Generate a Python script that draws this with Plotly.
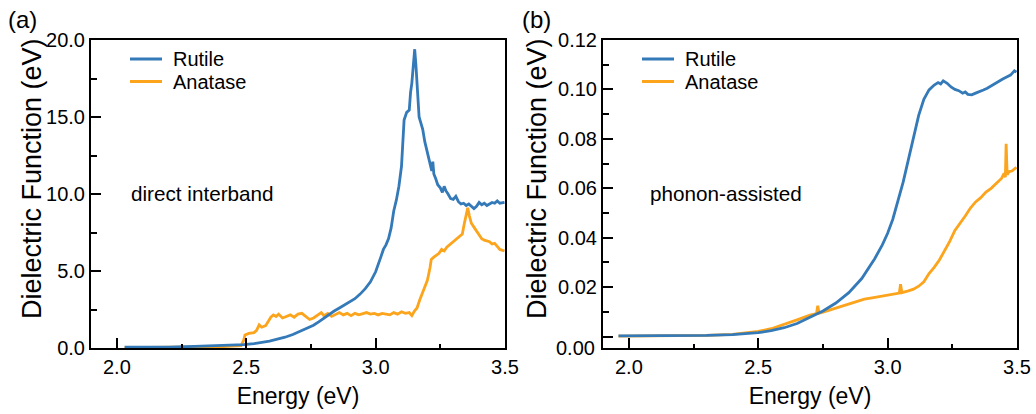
import plotly.graph_objects as go

# ---------------- data ----------------
rutile_a_E = [2.03, 2.10, 2.20, 2.30, 2.40, 2.45, 2.49, 2.53, 2.56, 2.59, 2.62, 2.65, 2.68, 2.70, 2.72,
              2.74, 2.76, 2.78, 2.80, 2.82, 2.84, 2.86, 2.88, 2.90, 2.92, 2.94, 2.96, 2.98, 3.00, 3.02,
              3.03, 3.04, 3.05, 3.06, 3.07, 3.08, 3.09, 3.10, 3.11, 3.12, 3.13, 3.135, 3.14, 3.145, 3.151,
              3.156, 3.162, 3.168, 3.175, 3.182, 3.19, 3.197, 3.205, 3.212, 3.217, 3.221, 3.225, 3.232,
              3.24, 3.25, 3.258, 3.265, 3.272, 3.28, 3.29, 3.30, 3.31, 3.32, 3.33, 3.34, 3.35, 3.36, 3.37,
              3.38, 3.39, 3.40, 3.41, 3.42, 3.43, 3.44, 3.45, 3.46, 3.47, 3.48, 3.498]
rutile_a_V = [0.05, 0.05, 0.06, 0.10, 0.15, 0.18, 0.22, 0.28, 0.35, 0.45, 0.58, 0.70, 0.88, 1.02, 1.15,
              1.30, 1.48, 1.70, 1.95, 2.15, 2.40, 2.60, 2.80, 3.00, 3.20, 3.50, 3.85, 4.30, 4.95, 5.90,
              6.40, 6.70, 7.10, 7.80, 8.90, 9.60, 10.50, 11.80, 14.80, 15.30, 15.45, 16.6, 17.2, 18.2, 19.4,
              18.3, 16.8, 15.0, 14.6, 14.2, 13.4, 12.9, 12.5, 12.0, 11.5, 12.1, 11.3, 11.0,
              10.6, 10.4, 10.1, 10.5, 10.2, 10.0, 9.7, 9.65, 9.85, 9.5, 9.35, 9.4, 9.25, 9.35, 9.2,
              9.05, 9.2, 9.45, 9.3, 9.4, 9.25, 9.35, 9.45, 9.4, 9.55, 9.4, 9.45]

anatase_a_E = [2.03, 2.20, 2.40, 2.48, 2.49, 2.495, 2.51, 2.53, 2.54, 2.55, 2.56, 2.575, 2.585, 2.595,
               2.605, 2.615, 2.625, 2.64, 2.655, 2.67, 2.685, 2.70, 2.715, 2.73, 2.745, 2.76, 2.775,
               2.79, 2.80, 2.815, 2.83, 2.845, 2.86, 2.875, 2.89, 2.905, 2.92, 2.935, 2.95, 2.965, 2.98,
               2.995, 3.01, 3.025, 3.04, 3.055, 3.07, 3.085, 3.10, 3.115, 3.13, 3.14, 3.15, 3.16, 3.17,
               3.18, 3.19, 3.20, 3.21, 3.215, 3.225, 3.235, 3.245, 3.255, 3.265, 3.275, 3.285, 3.295,
               3.305, 3.315, 3.325, 3.335, 3.343, 3.35, 3.356, 3.362, 3.37, 3.38, 3.39, 3.40, 3.41, 3.42,
               3.43, 3.44, 3.45, 3.46, 3.47, 3.48, 3.498]
anatase_a_V = [0.03, 0.04, 0.08, 0.15, 0.5, 0.85, 0.95, 1.0, 1.15, 1.5, 1.35, 1.45, 1.7, 2.0,
               2.15, 2.05, 2.2, 1.95, 2.05, 2.15, 2.0, 2.2, 2.25, 2.05, 1.85, 1.95, 2.15,
               2.3, 2.1, 2.25, 2.05, 2.2, 2.3, 2.15, 2.25, 2.1, 2.25, 2.15, 2.25, 2.3, 2.2,
               2.25, 2.15, 2.25, 2.2, 2.15, 2.3, 2.2, 2.35, 2.25, 2.3, 2.1, 2.4, 2.6, 3.1,
               3.5, 3.9, 4.4, 5.2, 5.75, 5.9, 6.0, 6.15, 6.4, 6.3, 6.55, 6.7, 6.8,
               7.0, 7.1, 7.3, 7.4, 8.1, 8.7, 9.1, 8.6, 8.1, 7.85, 7.6, 7.3, 7.1, 7.0,
               6.95, 6.9, 6.75, 6.8, 6.6, 6.4, 6.3]

rutile_b_E = [1.96, 2.10, 2.20, 2.30, 2.40, 2.45, 2.50, 2.55, 2.60, 2.65, 2.70, 2.75, 2.80, 2.85, 2.90,
              2.95, 2.98, 3.00, 3.02, 3.04, 3.06, 3.08, 3.10, 3.12, 3.14, 3.16, 3.18, 3.195, 3.205,
              3.215, 3.23, 3.245, 3.26, 3.275, 3.29, 3.30, 3.31, 3.325, 3.34, 3.355, 3.37, 3.385, 3.40,
              3.415, 3.43, 3.445, 3.46, 3.475, 3.49, 3.498]
rutile_b_V = [0.0003, 0.0003, 0.0004, 0.0005, 0.0008, 0.0011, 0.0016, 0.0024, 0.0036, 0.0053, 0.0077,
              0.0104, 0.0136, 0.0178, 0.0235, 0.0315, 0.0372, 0.0418, 0.0475, 0.0545, 0.0625, 0.0715,
              0.0810, 0.0895, 0.0960, 0.0998, 0.1018, 0.1028, 0.1022, 0.1035, 0.1025, 0.1010, 0.1000,
              0.0995, 0.0985, 0.0990, 0.0980, 0.0978, 0.0985, 0.0990, 0.0998, 0.1005, 0.1015, 0.1022,
              0.1035, 0.1042, 0.1050, 0.1058, 0.1075, 0.1070]

anatase_b_E = [1.96, 2.10, 2.20, 2.30, 2.40, 2.45, 2.50, 2.55, 2.60, 2.65, 2.70, 2.725, 2.73, 2.735,
               2.76, 2.79, 2.82, 2.85, 2.88, 2.91, 2.94, 2.97, 3.00, 3.03, 3.045, 3.05, 3.055, 3.08,
               3.10, 3.12, 3.14, 3.16, 3.18, 3.20, 3.22, 3.24, 3.26, 3.28, 3.30, 3.32, 3.34, 3.36,
               3.38, 3.40, 3.42, 3.44, 3.45, 3.455, 3.458, 3.462, 3.47, 3.48, 3.498]
anatase_b_V = [0.0002, 0.0002, 0.0003, 0.0005, 0.0009, 0.0014, 0.0021, 0.0032, 0.0049, 0.0068, 0.0087,
               0.0093, 0.0125, 0.0095, 0.0102, 0.0112, 0.0122, 0.0135, 0.0145, 0.0152, 0.0157, 0.0163,
               0.0168, 0.0172, 0.0176, 0.0212, 0.0178, 0.0185, 0.0192, 0.0204, 0.0222, 0.0255, 0.0280,
               0.0310, 0.0345, 0.0385, 0.0430, 0.0458, 0.0488, 0.0520, 0.0545, 0.0562, 0.0585, 0.0600,
               0.0622, 0.0640, 0.0660, 0.0645, 0.0780, 0.0655, 0.0668, 0.0670, 0.0685]

x_ticks = [2.0, 2.5, 3.0, 3.5]
ya_ticks = [0, 5, 10, 15, 20]
yb_ticks = [0.00, 0.02, 0.04, 0.06, 0.08, 0.10, 0.12]
series_names = ["Rutile", "Anatase"]

# ---------------- style ----------------
BLUE = "#3479b8"
ORANGE = "#fba41c"
FONT = "Liberation Sans, Arial, sans-serif"
W, H = 1036, 414
LW = 2.8

fig = go.Figure()

fig.add_trace(go.Scatter(x=anatase_a_E, y=anatase_a_V, mode="lines", name="Anatase",
                         line=dict(color=ORANGE, width=LW), xaxis="x", yaxis="y", showlegend=False))
fig.add_trace(go.Scatter(x=rutile_a_E, y=rutile_a_V, mode="lines", name="Rutile",
                         line=dict(color=BLUE, width=LW), xaxis="x", yaxis="y", showlegend=False))
fig.add_trace(go.Scatter(x=anatase_b_E, y=anatase_b_V, mode="lines", name="Anatase",
                         line=dict(color=ORANGE, width=LW), xaxis="x2", yaxis="y2", showlegend=False))
fig.add_trace(go.Scatter(x=rutile_b_E, y=rutile_b_V, mode="lines", name="Rutile",
                         line=dict(color=BLUE, width=LW), xaxis="x2", yaxis="y2", showlegend=False))

ax_common = dict(showline=True, linecolor="black", linewidth=2, mirror=True,
                 ticks="inside", tickcolor="black", tickwidth=2, ticklen=10,
                 showgrid=False, zeroline=False, automargin=False,
                 tickfont=dict(family=FONT, size=20, color="black"))

xa = dict(ax_common, range=[1.9, 3.5], tickvals=x_ticks, tickformat=".1f",
          minor=dict(ticks="inside", dtick=0.25, tick0=2.0, ticklen=4, tickwidth=2,
                     tickcolor="black", showgrid=False),
          title=dict(text="Energy (eV)", font=dict(family=FONT, size=23, color="black"), standoff=11))

ybot = (H - 348) / H
ytop = (H - 40) / H

# legend (drawn as decoration: short line samples + labels)
legend_shapes = []
legend_annots = []
for x0, in [(130,), (642,)]:
    for i, (nm, col) in enumerate(zip(series_names, [BLUE, ORANGE])):
        yy = 1 - (59 + 22.5 * i) / H
        legend_shapes.append(dict(type="line", xref="paper", yref="paper",
                                  x0=x0 / W, x1=(x0 + 32) / W, y0=yy, y1=yy,
                                  line=dict(color=col, width=3)))
        legend_annots.append(dict(text=nm, x=(x0 + 41) / W, y=yy, xref="paper", yref="paper",
                                  xanchor="left", yanchor="middle", showarrow=False,
                                  font=dict(family=FONT, size=20, color="black")))

ytitle_font = dict(family=FONT, size=27, color="black")
note_font = dict(family=FONT, size=20.7, color="black")

fig.update_layout(
    width=W, height=H,
    margin=dict(l=0, r=0, t=0, b=0, autoexpand=False),
    paper_bgcolor="white", plot_bgcolor="white",
    showlegend=False,
    xaxis=dict(xa, domain=[91 / W, 505 / W], anchor="y"),
    xaxis2=dict(xa, domain=[603 / W, 1017 / W], anchor="y2"),
    yaxis=dict(ax_common, domain=[ybot, ytop], anchor="x", range=[0, 20],
               tickvals=ya_ticks, tickformat=".1f",
               minor=dict(ticks="inside", dtick=2.5, tick0=0, ticklen=6, tickwidth=2,
                          tickcolor="black", showgrid=False)),
    yaxis2=dict(ax_common, domain=[ybot, ytop], anchor="x2", range=[-0.0046, 0.12],
                tickvals=yb_ticks, ticktext=["", "0.02", "0.04", "0.06", "0.08", "0.10", "0.12"],
                minor=dict(ticks="inside", dtick=0.01, tick0=0, ticklen=6, tickwidth=2,
                           tickcolor="black", showgrid=False)),
    shapes=legend_shapes,
    annotations=legend_annots + [
        dict(text="Dielectric Function (eV)", x=32 / W, y=1 - 179 / H, xref="paper", yref="paper",
             xanchor="center", yanchor="middle", textangle=-90, showarrow=False, font=ytitle_font),
        dict(text="Dielectric Function (eV)", x=537 / W, y=1 - 179 / H, xref="paper", yref="paper",
             xanchor="center", yanchor="middle", textangle=-90, showarrow=False, font=ytitle_font),
        dict(text="(a)", x=6 / W, y=1 - 20 / H, xref="paper", yref="paper", xanchor="left",
             yanchor="middle", showarrow=False, font=dict(family=FONT, size=24, color="black")),
        dict(text="(b)", x=520 / W, y=1 - 20 / H, xref="paper", yref="paper", xanchor="left",
             yanchor="middle", showarrow=False, font=dict(family=FONT, size=24, color="black")),
        dict(text="direct interband", x=129 / W, y=1 - 193 / H, xref="paper", yref="paper",
             xanchor="left", yanchor="middle", showarrow=False, font=note_font),
        dict(text="phonon-assisted", x=648 / W, y=1 - 193 / H, xref="paper", yref="paper",
             xanchor="left", yanchor="middle", showarrow=False, font=note_font),
        dict(text="0.00", x=597 / W, y=1 - 348 / H, xref="paper", yref="paper",
             xanchor="right", yanchor="middle", showarrow=False,
             font=dict(family=FONT, size=20, color="black")),
    ],
)

fig.write_html("out.html")
